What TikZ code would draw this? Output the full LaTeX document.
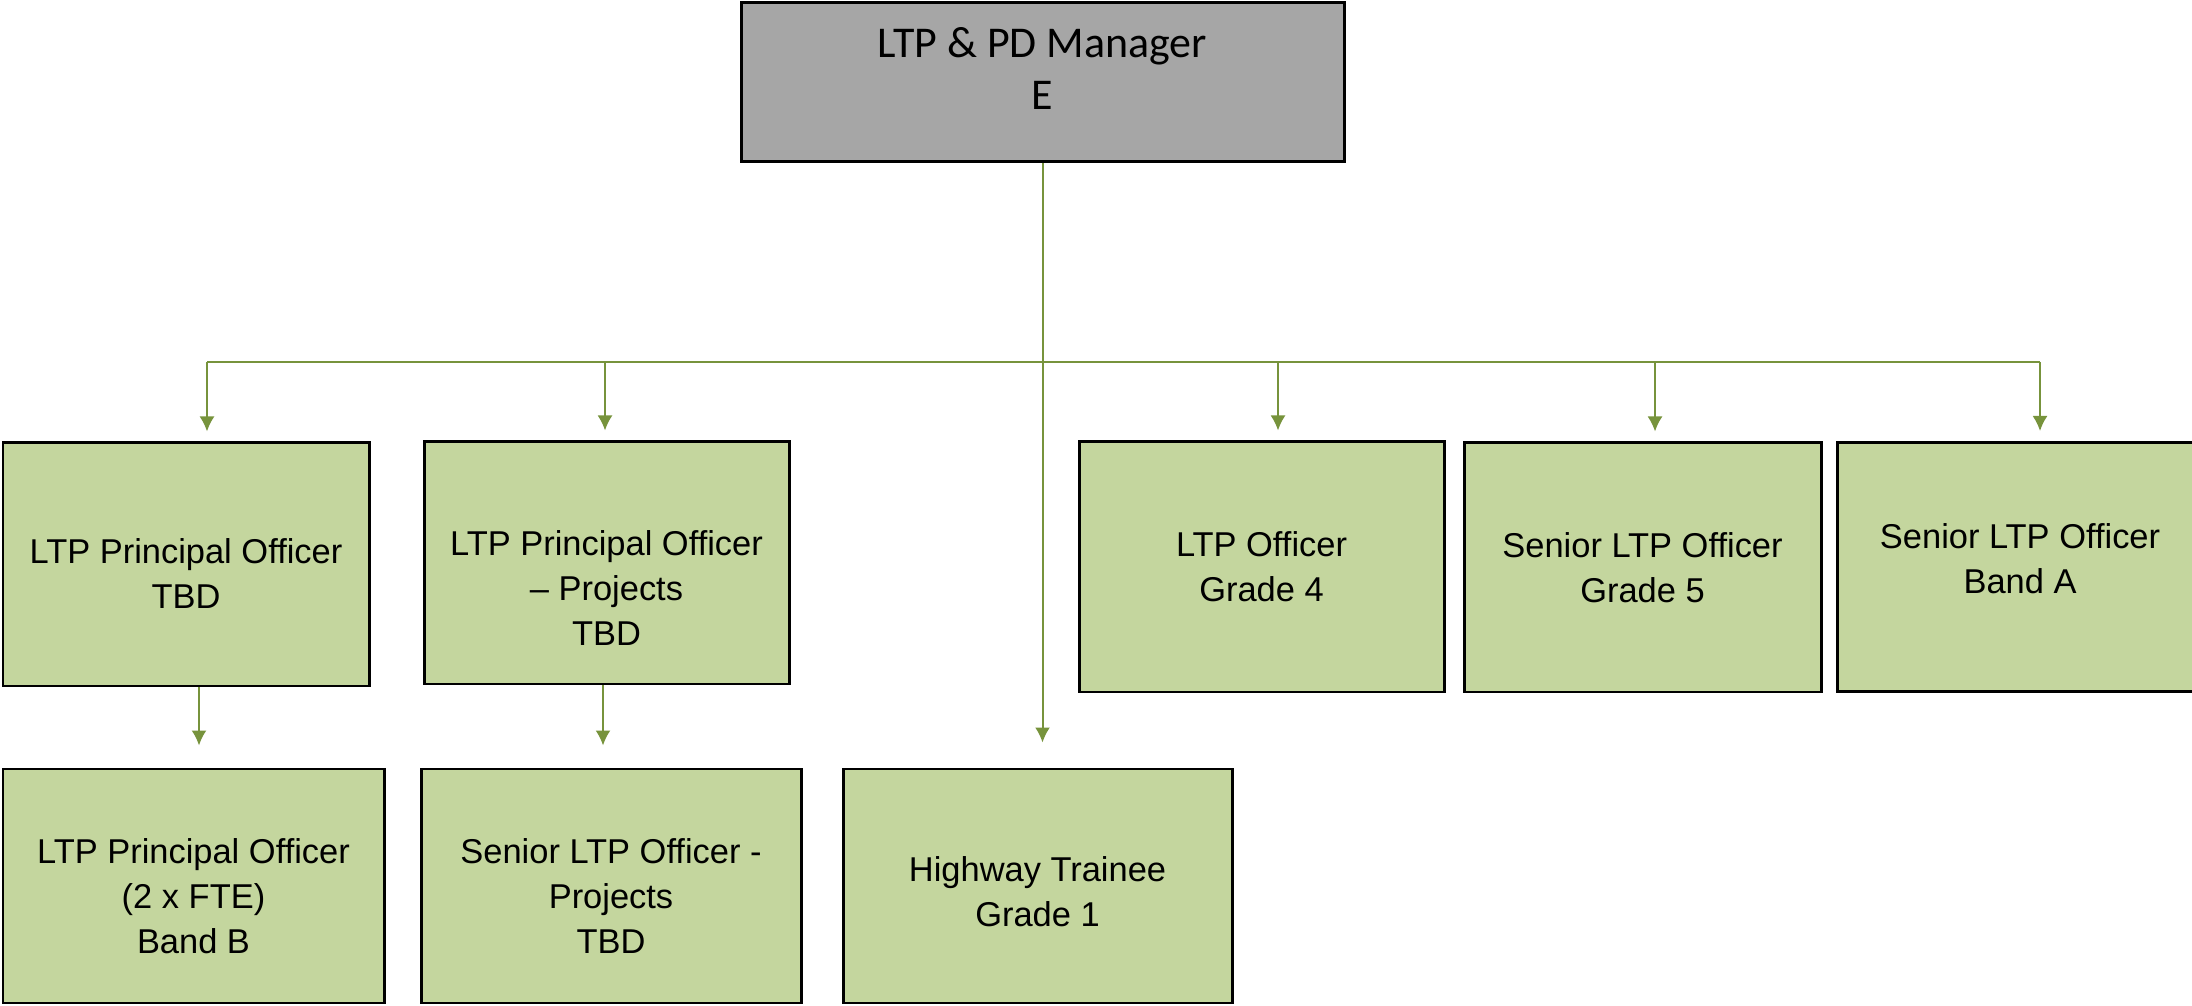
\documentclass[tikz,border=0pt]{standalone}
\usepackage{fontspec}
\setmainfont{Liberation Sans}
\newfontfamily\mgrfont{Carlito}
\usetikzlibrary{arrows.meta}
\tikzset{>=Latex}

\definecolor{boxgreen}{RGB}{196,214,158}
\definecolor{linkgreen}{RGB}{119,147,60}
\definecolor{mgrgrey}{RGB}{166,166,166}

% invisible rule that pushes the lines of a box down
\newcommand{\dropby}[1]{\rule{0pt}{#1}}

\tikzset{
    post/.style={draw=black, line width=0.85pt, fill=boxgreen, align=center,
        inner sep=0pt, font=\fontsize{9.8}{12.8}\selectfont},
    mgr/.style={draw=black, line width=0.85pt, fill=mgrgrey, align=center,
        inner sep=0pt, font=\mgrfont\fontsize{12.5}{15}\selectfont},
    textup/.style={execute at end node={\rule[-#1]{0pt}{#1}}},
    link/.style={draw=linkgreen, line width=0.57pt},
    arr/.style={link, -{Latex[length=1.5mm,width=1.5mm]}, shorten >=1mm}
}

\begin{document}
\begin{tikzpicture}
    \useasboundingbox (0,0) rectangle (21.92,10.05);

    % Manager
    \node[mgr, textup=8pt, minimum width=6.03cm, minimum height=1.59cm] (mgr) at (10.425,9.225) {LTP \& PD Manager\\E};

    % First row
    \node[post, minimum width=3.66cm, minimum height=2.43cm] (A) at (1.86,4.405) {\dropby{12pt}LTP Principal Officer\\TBD};
    \node[post, minimum width=3.65cm, minimum height=2.42cm] (B) at (6.065,4.42) {\dropby{21.5pt}LTP Principal Officer\\– Projects\\TBD};
    \node[post, minimum width=3.65cm, minimum height=2.50cm] (C) at (12.615,4.38) {LTP Officer\\Grade 4};
    \node[post, minimum width=3.57cm, minimum height=2.49cm] (D) at (16.425,4.375) {Senior LTP Officer\\Grade 5};
    \node[post, textup=4.8pt, minimum width=3.65cm, minimum height=2.49cm] (E) at (20.20,4.38) {Senior LTP Officer\\Band A};

    % Second row
    \node[post, minimum width=3.81cm, minimum height=2.34cm] (F) at (1.935,1.19) {\dropby{12.8pt}LTP Principal Officer\\(2 x FTE)\\Band B};
    \node[post, minimum width=3.80cm, minimum height=2.34cm] (G) at (6.11,1.19) {\dropby{12.8pt}Senior LTP Officer -\\Projects\\TBD};
    \node[post, minimum width=3.89cm, minimum height=2.34cm] (H) at (10.375,1.19) {\dropby{10.4pt}Highway Trainee\\Grade 1};

    % Connectors
    \coordinate (bus) at (10.42,6.43);
    \draw[arr, shorten >=2.5mm] (mgr.south) -- (mgr.south |- H.north);
    \draw[link] ([xshift=2.1mm]A.north |- bus) -- ([xshift=2mm]E.north |- bus);
    \foreach \n/\dx in {A/2.1mm, B/-0.15mm, C/1.65mm, D/1.25mm, E/2mm}
        \draw[arr] ([xshift=\dx]\n.north |- bus) -- ([xshift=\dx]\n.north);
    \draw[arr, shorten >=2.2mm] ([xshift=1.3mm]A.south) -- ([xshift=1.3mm]A.south |- F.north);
    \draw[arr, shorten >=2.2mm] ([xshift=-0.35mm]B.south) -- ([xshift=-0.35mm]B.south |- G.north);
\end{tikzpicture}
\end{document}
